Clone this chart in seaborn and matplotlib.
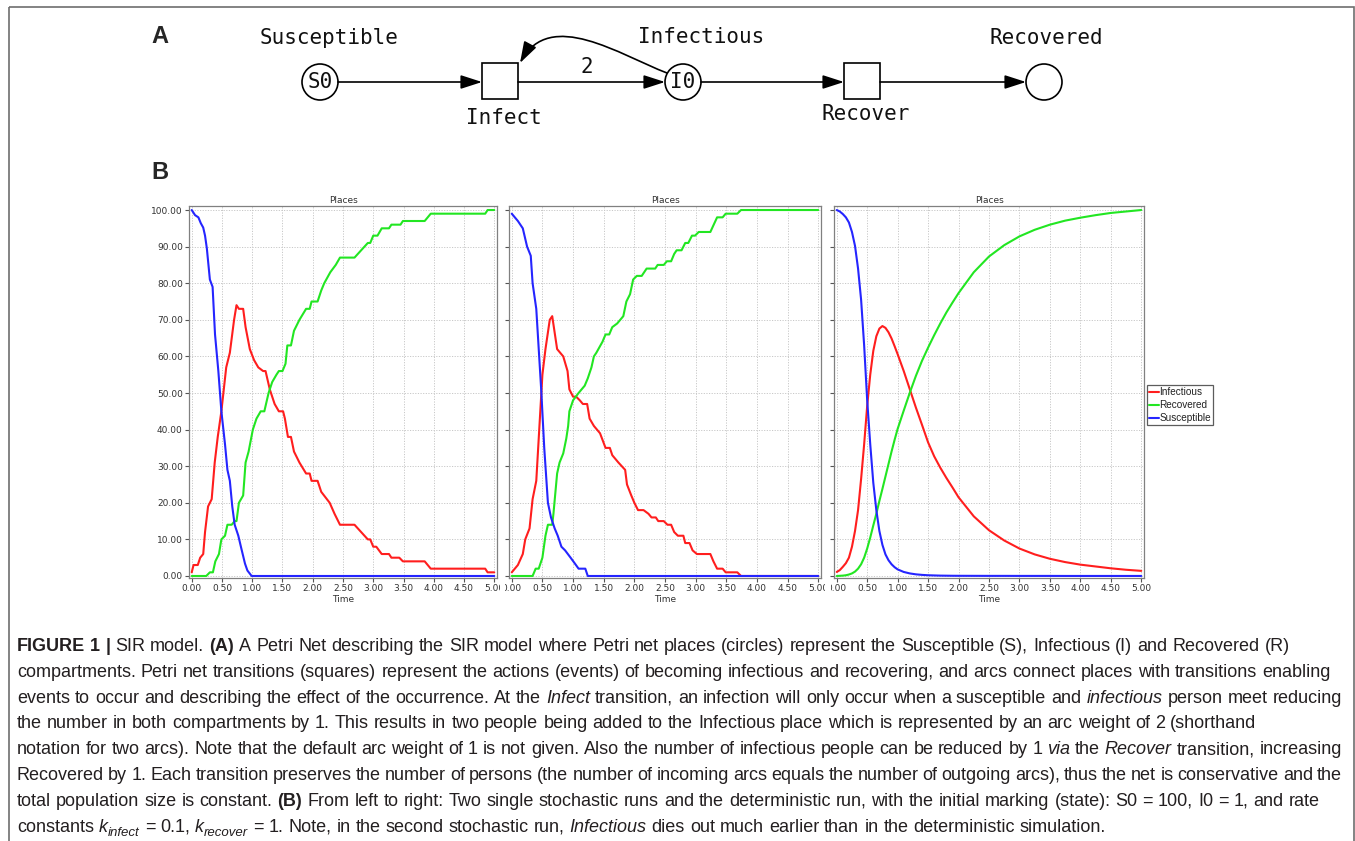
import re
import numpy as np
import pandas as pd
import matplotlib
matplotlib.use("Agg")
import matplotlib.pyplot as plt
import seaborn as sns
from matplotlib.patches import Circle, Rectangle, FancyArrowPatch
from matplotlib.path import Path
from matplotlib.lines import Line2D
from matplotlib.ticker import FormatStrFormatter
from matplotlib.transforms import Bbox, TransformedBbox

# ---------------- data ----------------
PLACES = ["Infectious", "Recovered", "Susceptible"]

# stochastic run 1
run1_sus_t = [0, 0.055, 0.11, 0.15, 0.19, 0.22, 0.25, 0.30, 0.345, 0.385, 0.44, 0.49, 0.55, 0.59, 0.63,
              0.67, 0.71, 0.77, 0.82, 0.88, 0.92, 0.99, 5.0]
run1_sus_v = [100, 98.6, 98, 96.4, 95.2, 93, 89.5, 81, 79, 66, 56, 45, 36, 29, 26, 19, 14, 11, 7.5, 3.4, 1.5, 0, 0]
run1_inf_t = [0, 0.03, 0.1, 0.14, 0.19, 0.22, 0.27, 0.33, 0.38, 0.43, 0.49, 0.57, 0.63, 0.70, 0.74, 0.78, 0.85,
              0.89, 0.96, 1.03, 1.10, 1.18, 1.22, 1.29, 1.37, 1.44, 1.51, 1.54, 1.59, 1.64, 1.69, 1.78, 1.89,
              1.95, 1.98, 2.08, 2.14, 2.28, 2.36, 2.45, 2.69, 2.80, 2.91, 2.95, 3.0, 3.05, 3.14, 3.26, 3.30,
              3.43, 3.49, 3.85, 3.95, 4.85, 4.89, 5.0]
run1_inf_v = [1, 3, 3, 5, 6, 12, 19, 21, 31, 38, 45, 57, 61, 70, 74, 73, 73, 68, 62, 59, 57, 56, 56, 51, 47,
              45, 45, 43, 38, 38, 34, 31, 28, 28, 26, 26, 23, 20, 17, 14, 14, 12, 10, 10, 8, 8, 6, 6, 5, 5,
              4, 4, 2, 2, 1, 1]
run1_rec_t = [0, 0.24, 0.30, 0.35, 0.39, 0.45, 0.49, 0.55, 0.59, 0.66, 0.71, 0.74, 0.78, 0.85, 0.89, 0.94,
              1.01, 1.07, 1.14, 1.20, 1.27, 1.33, 1.40, 1.44, 1.50, 1.55, 1.58, 1.64, 1.69, 1.78, 1.89, 1.95,
              1.98, 2.08, 2.14, 2.19, 2.29, 2.38, 2.45, 2.69, 2.80, 2.91, 2.95, 3.0, 3.07, 3.14, 3.26, 3.30,
              3.45, 3.49, 3.85, 3.95, 4.85, 4.89, 5.0]
run1_rec_v = [0, 0, 1, 1, 4, 6, 10, 11, 14, 14, 15, 15, 20, 22, 31, 34, 40, 43, 45, 45, 50, 53, 55, 56, 56,
              58, 63, 63, 67, 70, 73, 73, 75, 75, 78, 80, 83, 85, 87, 87, 89, 91, 91, 93, 93, 95, 95, 96,
              96, 97, 97, 99, 99, 100, 100]

# stochastic run 2
run2_sus_t = [0, 0.10, 0.18, 0.25, 0.31, 0.34, 0.40, 0.48, 0.53, 0.59, 0.64, 0.70, 0.75, 0.81, 0.87, 0.96,
              1.03, 1.09, 1.20, 1.24, 5.0]
run2_sus_v = [99, 97, 95, 90, 87.5, 80, 73, 51, 35, 20, 16, 13, 11, 8, 7, 5, 3.4, 2, 2, 0, 0]
run2_inf_t = [0, 0.10, 0.18, 0.22, 0.29, 0.34, 0.40, 0.50, 0.55, 0.62, 0.66, 0.74, 0.84, 0.91, 0.94, 1.0,
              1.05, 1.11, 1.16, 1.23, 1.27, 1.34, 1.44, 1.53, 1.60, 1.64, 1.74, 1.85, 1.88, 1.95, 2.0, 2.06,
              2.15, 2.23, 2.28, 2.35, 2.39, 2.48, 2.54, 2.60, 2.65, 2.71, 2.80, 2.83, 2.90, 2.95, 3.02, 3.24,
              3.29, 3.35, 3.44, 3.49, 3.68, 3.74, 5.0]
run2_inf_v = [1, 3, 6, 10, 13, 21, 26, 55, 62, 70, 71, 62, 60, 56, 51, 49, 49, 48, 47, 47, 43, 41, 39, 35,
              35, 33, 31, 29, 25, 22, 20, 18, 18, 17, 16, 16, 15, 15, 14, 14, 12, 11, 11, 9, 9, 7, 6, 6, 4,
              2, 2, 1, 1, 0, 0]
run2_rec_t = [0, 0.34, 0.39, 0.44, 0.50, 0.55, 0.59, 0.66, 0.68, 0.74, 0.78, 0.84, 0.89, 0.92, 0.94, 1.0,
              1.09, 1.19, 1.24, 1.30, 1.34, 1.38, 1.48, 1.53, 1.59, 1.64, 1.72, 1.82, 1.87, 1.93, 1.98, 2.04,
              2.12, 2.20, 2.34, 2.38, 2.48, 2.53, 2.60, 2.65, 2.69, 2.77, 2.83, 2.88, 2.94, 2.99, 3.05, 3.24,
              3.35, 3.44, 3.49, 3.68, 3.74, 5.0]
run2_rec_v = [0, 0, 2, 2, 5, 11, 14, 14, 17, 28, 31, 33.5, 37.6, 41, 45, 48, 50, 52, 54, 57, 60, 61, 64,
              66, 66, 68, 69, 71, 75, 77, 81, 82, 82, 84, 84, 85, 85, 86, 86, 88, 89, 89, 91, 91, 93, 93,
              94, 94, 98, 98, 99, 99, 100, 100]

# deterministic run
det_t = [0, 0.05, 0.1, 0.15, 0.2, 0.25, 0.3, 0.35, 0.4, 0.45, 0.5, 0.55, 0.6, 0.65, 0.7, 0.75, 0.8, 0.85,
         0.9, 0.95, 1.0, 1.1, 1.2, 1.3, 1.4, 1.5, 1.6, 1.7, 1.8, 1.9, 2.0, 2.25, 2.5, 2.75, 3.0, 3.25, 3.5,
         3.75, 4.0, 4.25, 4.5, 4.75, 5.0]
det_sus = [100, 99.6, 98.9, 98, 96.6, 94, 90.2, 84, 75.5, 63, 48, 36, 25.5, 18, 12.3, 8.5, 5.9, 4.3, 3.2,
           2.4, 1.8, 1.1, 0.7, 0.45, 0.3, 0.2, 0.15, 0.1, 0.08, 0.06, 0.05, 0.04, 0.03, 0.03, 0.02, 0.02,
           0.02, 0.01, 0.01, 0.01, 0.01, 0.01, 0.01]
det_inf = [1.1, 1.6, 2.5, 3.5, 5, 8, 12.3, 18, 26.5, 36, 46.5, 55, 61.5, 65.5, 67.6, 68.3, 67.8, 66.6, 64.9,
           62.8, 60.6, 56, 51, 46, 41.3, 36.5, 32.7, 29.6, 26.8, 24.2, 21.5, 16.3, 12.5, 9.7, 7.5, 5.9, 4.7,
           3.8, 3.1, 2.6, 2.1, 1.7, 1.4]
det_rec = [0, 0.05, 0.1, 0.2, 0.4, 0.7, 1.2, 2, 3.2, 5, 7.5, 10.5, 13.8, 17, 20.5, 23.8, 27.2, 30.6, 34,
           37.2, 40.2, 45.2, 50.1, 54.7, 58.8, 62.4, 65.8, 69, 72, 74.7, 77.3, 83, 87.3, 90.4, 92.8, 94.6,
           96, 97.1, 97.9, 98.6, 99.2, 99.6, 100]

y_ticks = [0, 10, 20, 30, 40, 50, 60, 70, 80, 90, 100]
x_ticks = [0, 0.5, 1.0, 1.5, 2.0, 2.5, 3.0, 3.5, 4.0, 4.5, 5.0]

CAPTION = [
    "**FIGURE** **1** **|** SIR model. **(A)** A Petri Net describing the SIR model where Petri net places (circles) represent the Susceptible (S), Infectious (I) and Recovered (R)",
    "compartments. Petri net transitions (squares) represent the actions (events) of becoming infectious and recovering, and arcs connect places with transitions enabling",
    "events to occur and describing the effect of the occurrence. At the *Infect* transition, an infection will only occur when a susceptible and *infectious* person meet reducing",
    "the number in both compartments by 1. This results in two people being added to the Infectious place which is represented by an arc weight of 2 (shorthand",
    "notation for two arcs). Note that the default arc weight of 1 is not given. Also the number of infectious people can be reduced by 1 *via* the *Recover* transition, increasing",
    "Recovered by 1. Each transition preserves the number of persons (the number of incoming arcs equals the number of outgoing arcs), thus the net is conservative and the",
    "total population size is constant. **(B)** From left to right: Two single stochastic runs and the deterministic run, with the initial marking (state): S0 = 100, I0 = 1, and rate",
    "constants *k*_{infect} = 0.1, *k*_{recover} = 1. Note, in the second stochastic run, *Infectious* dies out much earlier than in the deterministic simulation.",
]

# ---------------- style ----------------
sns.set_theme(style="white")
plt.rcParams["font.family"] = ["DejaVu Sans"]

W, H = 1355, 841
fig = plt.figure(figsize=(W / 100, H / 100), dpi=100)
fig.patch.set_facecolor("white")


def fbox(l, t, r, b):
    return [l / W, 1 - b / H, (r - l) / W, (b - t) / H]


PAL = {"Infectious": "#ff1e1e", "Recovered": "#22e622", "Susceptible": "#2525ff"}
TXT = "#333333"


def frame(series):
    parts = []
    for place, t, v in series:
        parts.append(pd.DataFrame({"Time": t, "Value": v, "Place": place}))
    return pd.concat(parts, ignore_index=True)


panels = [
    (fbox(189, 206, 497, 578), frame([("Infectious", run1_inf_t, run1_inf_v),
                                      ("Recovered", run1_rec_t, run1_rec_v),
                                      ("Susceptible", run1_sus_t, run1_sus_v)]), True, (0, 500)),
    (fbox(509, 206, 821, 578), frame([("Infectious", run2_inf_t, run2_inf_v),
                                      ("Recovered", run2_rec_t, run2_rec_v),
                                      ("Susceptible", run2_sus_t, run2_sus_v)]), False, (505, 825)),
    (fbox(834, 206, 1144, 578), frame([("Infectious", det_t, det_inf),
                                       ("Recovered", det_t, det_rec),
                                       ("Susceptible", det_t, det_sus)]), False, (831, W)),
]

axes = []
for pos, df, show_y, clip in panels:
    ax = fig.add_axes(pos)
    sns.lineplot(data=df, x="Time", y="Value", hue="Place", hue_order=PLACES, palette=PAL,
                 estimator=None, sort=False, legend=False, linewidth=1.5, ax=ax)
    ax.set_xlim(-0.045, 5.045)
    ax.set_ylim(-0.55, 101.1)
    ax.set_xticks(x_ticks)
    ax.set_yticks(y_ticks)
    ax.xaxis.set_major_formatter(FormatStrFormatter("%.2f"))
    ax.yaxis.set_major_formatter(FormatStrFormatter("%.2f"))
    ax.grid(True, color="#c8c8c8", linestyle=(0, (1.2, 1.5)), linewidth=0.7)
    ax.tick_params(bottom=True, left=True, direction="out", length=3, width=0.8, color="#555555",
                   labelsize=6.5, labelcolor=TXT, pad=1.5)
    if not show_y:
        ax.tick_params(labelleft=False)
    for s in ax.spines.values():
        s.set_color("#808080")
        s.set_linewidth(0.9)
    ax.set_title("Places", fontsize=6.5, color=TXT, pad=2.5)
    ax.set_xlabel("Time", fontsize=6.5, color=TXT, labelpad=1)
    ax.set_ylabel("")
    axes.append((ax, clip))

handles = [Line2D([], [], color=PAL[p], lw=1.5) for p in PLACES]
leg = fig.legend(handles, PLACES, loc="upper left", bbox_to_anchor=(1147 / W, 1 - 385 / H),
                 frameon=True, fancybox=False, prop={"family": "Liberation Sans", "size": 7.2},
                 handlelength=1.0, handletextpad=0.05, borderpad=0.2, labelspacing=0.3,
                 borderaxespad=0)
leg.get_frame().set_edgecolor("#333333")
leg.get_frame().set_linewidth(0.9)
for t in leg.get_texts():
    t.set_color("#222222")

# ---------------- overlay: border, Petri net, labels, caption ----------------
ax0 = fig.add_axes([0, 0, 1, 1], zorder=-1)
ax0.set_xlim(0, W)
ax0.set_ylim(H, 0)
ax0.axis("off")

ax0.add_patch(Rectangle((9, 7), 1345, 900, fill=False, edgecolor="#6e6e6e", lw=1.2))

ax0.text(160, 36, "A", fontsize=17, fontweight="bold", family="Liberation Sans", ha="center", va="center")
ax0.text(160, 172, "B", fontsize=17, fontweight="bold", family="Liberation Sans", ha="center", va="center")

MONO = dict(family="DejaVu Sans Mono", fontsize=15, color="#111111", ha="center", va="center")
LW = 1.2
for cx, lab in [(320, "S0"), (683, "I0"), (1044, "")]:
    ax0.add_patch(Circle((cx, 82), 18, fill=False, edgecolor="black", lw=LW))
    if lab:
        ax0.text(cx, 82, lab, **MONO)
for cx in [500, 862]:
    ax0.add_patch(Rectangle((cx - 18, 63), 36, 36, fill=False, edgecolor="black", lw=LW))

ARW = "-|>,head_length=1.3,head_width=0.42"
for x0, x1 in [(338, 482), (518, 665), (701, 844), (880, 1026)]:
    ax0.add_patch(FancyArrowPatch((x0, 82), (x1, 82), arrowstyle=ARW, mutation_scale=10,
                                  color="black", lw=LW, shrinkA=0, shrinkB=0))
arc = Path([(667, 73), (620, 55), (550, 8), (520, 63)],
           [Path.MOVETO, Path.CURVE4, Path.CURVE4, Path.CURVE4])
ax0.add_patch(FancyArrowPatch(path=arc, arrowstyle=ARW, mutation_scale=10, color="black", lw=LW))

for x, y, s in [(329, 38, "Susceptible"), (701, 37, "Infectious"), (1046, 38, "Recovered"),
                (504, 118, "Infect"), (866, 114, "Recover"), (587, 67, "2")]:
    ax0.text(x, y, s, **MONO)

# caption
renderer = fig.canvas.get_renderer()
CAP = dict(family="Liberation Sans", color="#231f20")


def skw(s):
    if s == "b":
        return dict(fontsize=13, fontweight="bold")
    if s == "i":
        return dict(fontsize=13, fontstyle="italic")
    if s == "sub":
        return dict(fontsize=9.5, fontstyle="italic")
    return dict(fontsize=13)


def measure(txt, s):
    a = ax0.text(0, 0, txt + "|", **CAP, **skw(s))
    b = ax0.text(0, 0, "|", **CAP, **skw(s))
    w = a.get_window_extent(renderer).width - b.get_window_extent(renderer).width
    a.remove()
    b.remove()
    return w


def parse(word):
    runs = []
    for bold, ital, sub, plain in re.findall(r"\*\*(.+?)\*\*|\*(.+?)\*|_\{(.+?)\}|([^*_]+)", word):
        if bold:
            runs.append((bold, "b"))
        elif ital:
            runs.append((ital, "i"))
        elif sub:
            runs.append((sub, "sub"))
        else:
            runs.append((plain, "n"))
    return runs


X0, XMAX = 17, 1342
space_w = measure(" ", "n")
for i, line in enumerate(CAPTION):
    yb = 651 + 25.8 * i
    words = [parse(w) for w in line.split(" ")]
    widths = [[measure(t, s) for t, s in runs] for runs in words]
    total = sum(sum(w) for w in widths)
    gap = space_w
    if total + gap * (len(words) - 1) > XMAX - X0:
        gap = (XMAX - X0 - total) / (len(words) - 1)
    x = X0
    for runs, ws in zip(words, widths):
        for (t, s), w in zip(runs, ws):
            dy = 4 if s == "sub" else 0
            ax0.text(x, yb + dy, t, va="baseline", ha="left", **CAP, **skw(s))
            x += w
        x += gap

# clip tick labels like adjacent screenshots
fig.canvas.draw()
for ax, (c0, c1) in axes:
    cb = TransformedBbox(Bbox.from_extents(c0 / W, 0, c1 / W, 1), fig.transFigure)
    for tk in ax.xaxis.get_major_ticks():
        tk.label1.set_clip_box(cb)
        tk.label1.set_clip_on(True)

fig.savefig("out.png", dpi=100, facecolor="white")
